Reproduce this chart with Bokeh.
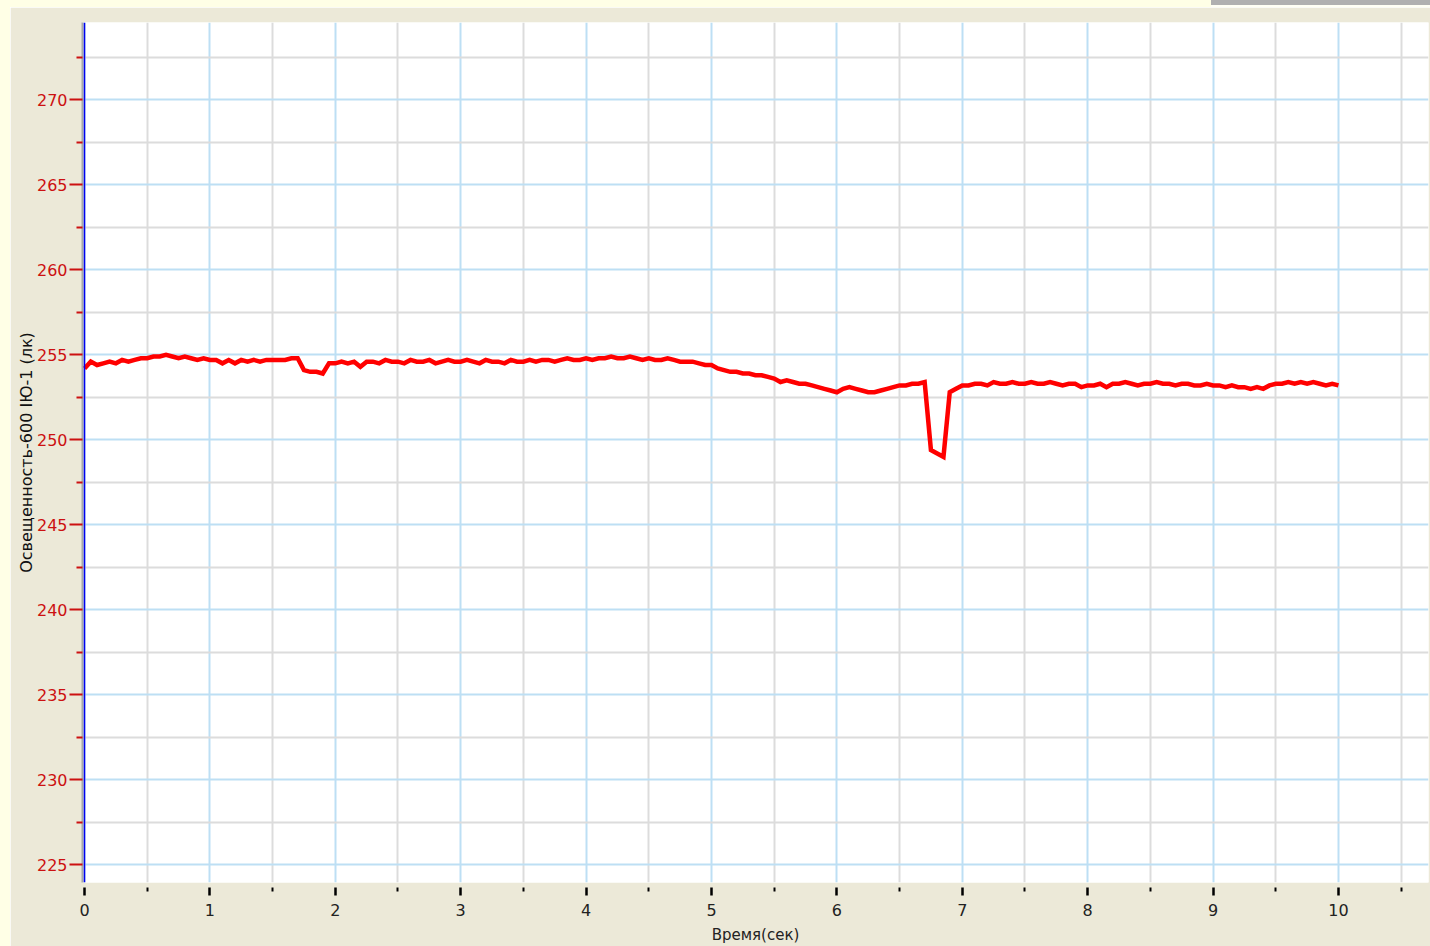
from bokeh.plotting import figure
from bokeh.models import FixedTicker, Span, Spacer
from bokeh.layouts import column, row
from bokeh.embed import file_html
from bokeh.resources import INLINE

# Illuminance readings, one every 0.05 s from 0 to 10 s
SAMPLE_STEP = 0.05
illum = (
    [254.2]
    + [254.6, 254.4, 254.5, 254.6, 254.5, 254.7, 254.6, 254.7, 254.8, 254.8]   # 0.05-0.50
    + [254.9, 254.9, 255.0, 254.9, 254.8, 254.9, 254.8, 254.7, 254.8, 254.7]   # 0.55-1.00
    + [254.7, 254.5, 254.7, 254.5, 254.7, 254.6, 254.7, 254.6, 254.7, 254.7]   # 1.05-1.50
    + [254.7, 254.7, 254.8, 254.8, 254.1, 254.0, 254.0, 253.9, 254.5, 254.5]   # 1.55-2.00
    + [254.6, 254.5, 254.6, 254.3, 254.6, 254.6, 254.5, 254.7, 254.6, 254.6]   # 2.05-2.50
    + [254.5, 254.7, 254.6, 254.6, 254.7, 254.5, 254.6, 254.7, 254.6, 254.6]   # 2.55-3.00
    + [254.7, 254.6, 254.5, 254.7, 254.6, 254.6, 254.5, 254.7, 254.6, 254.6]   # 3.05-3.50
    + [254.7, 254.6, 254.7, 254.7, 254.6, 254.7, 254.8, 254.7, 254.7, 254.8]   # 3.55-4.00
    + [254.7, 254.8, 254.8, 254.9, 254.8, 254.8, 254.9, 254.8, 254.7, 254.8]   # 4.05-4.50
    + [254.7, 254.7, 254.8, 254.7, 254.6, 254.6, 254.6, 254.5, 254.4, 254.4]   # 4.55-5.00
    + [254.2, 254.1, 254.0, 254.0, 253.9, 253.9, 253.8, 253.8, 253.7, 253.6]   # 5.05-5.50
    + [253.4, 253.5, 253.4, 253.3, 253.3, 253.2, 253.1, 253.0, 252.9, 252.8]   # 5.55-6.00
    + [253.0, 253.1, 253.0, 252.9, 252.8, 252.8, 252.9, 253.0, 253.1, 253.2]   # 6.05-6.50
    + [253.2, 253.3, 253.3, 253.4, 249.4, 249.2, 249.0, 252.8, 253.0, 253.2]   # 6.55-7.00
    + [253.2, 253.3, 253.3, 253.2, 253.4, 253.3, 253.3, 253.4, 253.3, 253.3]   # 7.05-7.50
    + [253.4, 253.3, 253.3, 253.4, 253.3, 253.2, 253.3, 253.3, 253.1, 253.2]   # 7.55-8.00
    + [253.2, 253.3, 253.1, 253.3, 253.3, 253.4, 253.3, 253.2, 253.3, 253.3]   # 8.05-8.50
    + [253.4, 253.3, 253.3, 253.2, 253.3, 253.3, 253.2, 253.2, 253.3, 253.2]   # 8.55-9.00
    + [253.2, 253.1, 253.2, 253.1, 253.1, 253.0, 253.1, 253.0, 253.2, 253.3]   # 9.05-9.50
    + [253.3, 253.4, 253.3, 253.4, 253.3, 253.4, 253.3, 253.2, 253.3, 253.2]   # 9.55-10.00
)
time_s = [round(i * SAMPLE_STEP, 2) for i in range(len(illum))]

x_major = [0, 1, 2, 3, 4, 5, 6, 7, 8, 9, 10]
x_minor = [0.5, 1.5, 2.5, 3.5, 4.5, 5.5, 6.5, 7.5, 8.5, 9.5, 10.5]
y_major = [225, 230, 235, 240, 245, 250, 255, 260, 265, 270]
y_minor = [227.5, 232.5, 237.5, 242.5, 247.5, 252.5, 257.5, 262.5, 267.5, 272.5]

x_title = "Время(сек)"
y_title = "Освещенность-600 IЮ-1 (лк)"

PANEL = "#ECE9D8"
PAGE = "#FFFFE6"
FONT = "DejaVu Sans"

p = figure(
    width=1420, height=939,
    x_range=(-0.016, 10.718), y_range=(223.96, 274.55),
    output_backend="svg", toolbar_location=None,
    min_border_left=72, min_border_right=2, min_border_top=15, min_border_bottom=64,
    background_fill_color="white", border_fill_color=PANEL,
    outline_line_color=None,
)

xt = FixedTicker(ticks=x_major, minor_ticks=x_minor)
yt = FixedTicker(ticks=y_major, minor_ticks=y_minor)
p.xaxis.ticker = xt
p.yaxis.ticker = yt
p.xgrid.ticker = xt
p.ygrid.ticker = yt

for g in (p.xgrid, p.ygrid):
    g.grid_line_color = "#BDDFF4"
    g.grid_line_width = 2
    g.minor_grid_line_color = "#DCDCDC"
    g.minor_grid_line_width = 2

# time axis: black detached ticks below the frame
xa = p.xaxis[0]
xa.axis_line_color = None
xa.major_tick_line_color = "black"
xa.major_tick_line_width = 2.5
xa.major_tick_in = -5
xa.major_tick_out = 13
xa.minor_tick_line_color = "black"
xa.minor_tick_line_width = 2
xa.minor_tick_in = -5
xa.minor_tick_out = 9
xa.major_label_text_color = "#222222"
xa.major_label_text_font = FONT
xa.major_label_text_font_size = "16px"
xa.major_label_standoff = 8
xa.axis_label = x_title
xa.axis_label_text_font = FONT
xa.axis_label_text_font_size = "15px"
xa.axis_label_text_font_style = "normal"
xa.axis_label_text_color = "#222222"
xa.axis_label_standoff = 7

# illuminance axis: red ticks and labels
ya = p.yaxis[0]
ya.axis_line_color = "#A8A8A8"
ya.axis_line_width = 2
ya.major_tick_line_color = "#CC1111"
ya.major_tick_line_width = 2
ya.major_tick_in = 0
ya.major_tick_out = 13
ya.minor_tick_line_color = "#CC1111"
ya.minor_tick_line_width = 2
ya.minor_tick_in = 0
ya.minor_tick_out = 6
ya.major_label_text_color = "#CC1111"
ya.major_label_text_font = FONT
ya.major_label_text_font_size = "16px"
ya.major_label_standoff = 2
ya.axis_label = y_title
ya.axis_label_text_font = FONT
ya.axis_label_text_font_size = "16px"
ya.axis_label_text_font_style = "normal"
ya.axis_label_text_color = "#111111"
ya.axis_label_standoff = -2

# cursor line at t = 0
p.add_layout(Span(location=0, dimension="height", line_color="#0000EE", line_width=1.5))

p.line(time_s, illum, line_color="#FF0000", line_width=4.5, line_join="miter")

top_row = row(
    Spacer(width=1211, height=7, styles={"background-color": PAGE}),
    Spacer(width=219, height=7,
           styles={"background": "linear-gradient(#B0B0B0 0px, #B0B0B0 5px, #FFFFF4 5px)"}),
    spacing=0,
)
left_strip = Spacer(width=10, height=939, styles={"background-color": PAGE})
layout = column(top_row, row(left_strip, p, spacing=0), spacing=0)

open("out.html", "w").write(file_html(layout, INLINE))
